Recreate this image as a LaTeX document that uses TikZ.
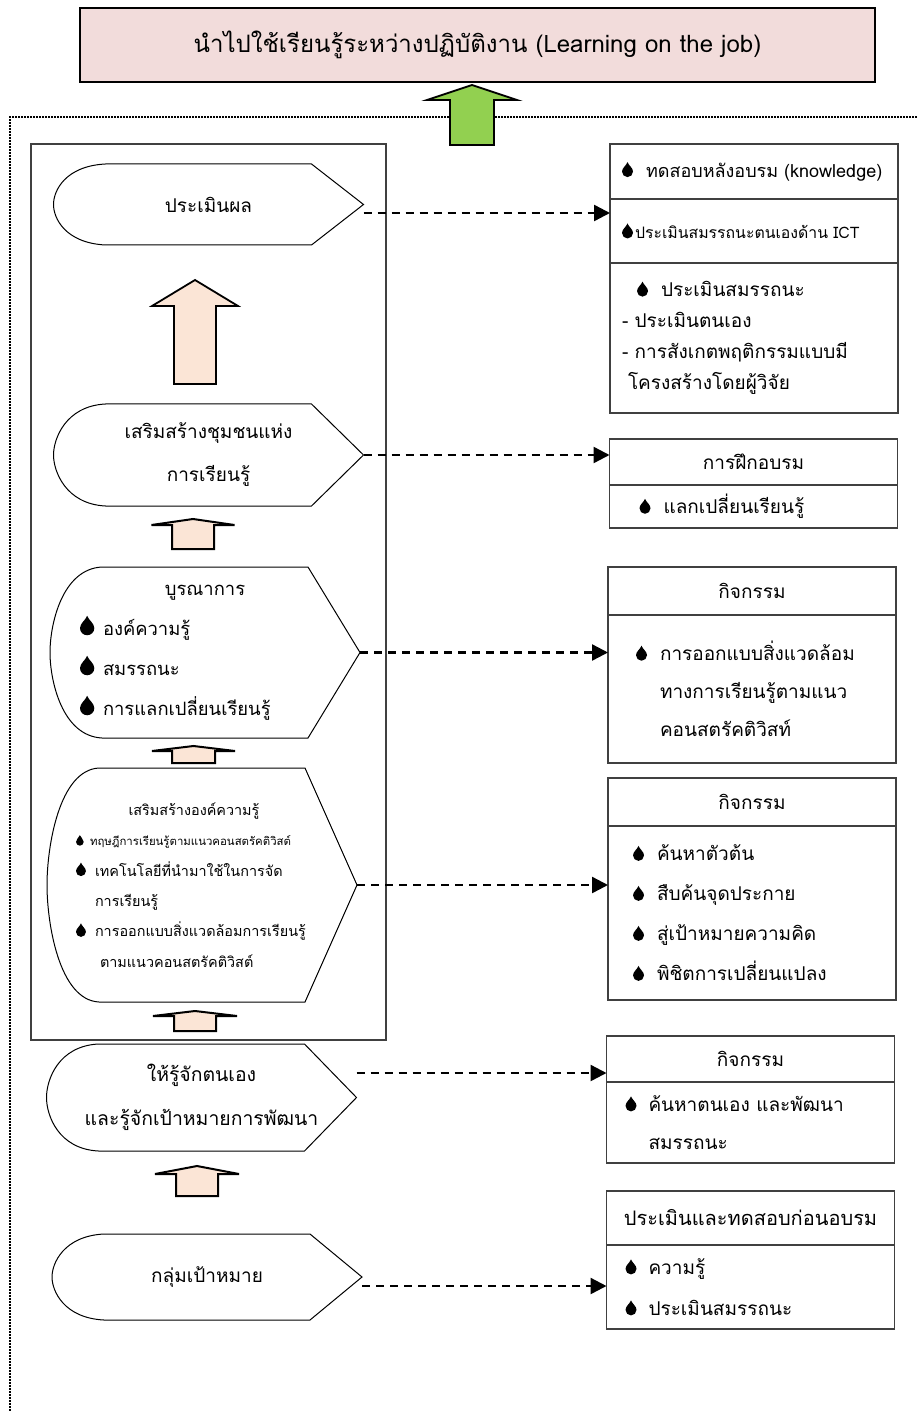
\documentclass[tikz,border=0pt]{standalone}
\usepackage{fontspec}
\setmainfont[Script=Thai]{Loma}
\usetikzlibrary{positioning,arrows.meta}
\definecolor{goalpink}{HTML}{F2DCDB}
\definecolor{leafgreen}{HTML}{92D050}
\definecolor{peach}{HTML}{FBE5D6}
\definecolor{framegray}{HTML}{404040}

\tikzset{
goalbox/.style={rectangle, draw=black, line width=1pt, fill=goalpink, minimum width=397.5pt, minimum height=37pt, font=\fontsize{12}{14}\selectfont},
stage/.style={minimum width=155pt, inner sep=0pt, outer sep=0pt, align=center, font=\fontsize{9.5}{21.5}\selectfont},
stageline/.style={draw=black, line width=0.5pt},
rhead/.style={draw=framegray, line width=0.6pt, minimum width=144pt, inner sep=0pt, outer sep=0pt, font=\fontsize{9.5}{19}\selectfont},
rbody/.style={rhead, text width=132pt, inner xsep=6pt, align=left},
leadsto/.style={line width=1.2pt, dash pattern=on 4pt off 3pt, -{Triangle[length=8pt,width=8pt]}},
fatarrow/.style={draw=black, line width=0.9pt, fill=peach, line join=miter},
smallarr/.style={fatarrow, line width=1pt},
greenarr/.style={fatarrow, fill=leafgreen},
outline/.style={line width=0.9pt, dash pattern=on 0.9pt off 0.6pt}}

% droplet bullet: [scale]{box width}
\newcommand{\drop}[2][1]{\makebox[#2][l]{\tikz[baseline=0pt,x=1pt,y=1pt,scale=#1]
  \fill[black] (2.75,7.5) .. controls (3.35,5.8) and (5.5,4.6) .. (5.5,2.75)
  arc[start angle=0,end angle=-180,radius=2.75] .. controls (0,4.6) and (2.15,5.8) .. (2.75,7.5) -- cycle;}}
% rounded-left, pointed-right outline round a stage node
\newcommand{\stageoutline}[2]{\draw[stageline] ([xshift=26pt]#1.north west) -- ([xshift=-26pt]#1.north east) -- (#1.east) -- ([xshift=-26pt]#1.south east) -- ([xshift=26pt]#1.south west) .. controls +(-20pt,1pt) and +(0,-#2) .. (#1.west) .. controls +(0,#2) and +(-20pt,-1pt) .. ([xshift=26pt]#1.north west) -- cycle;}
% block arrow: [style]{x}{tip}{wing}{base}{half shaft}{half head}
\newcommand{\fatup}[7][fatarrow]{\draw[#1] (#2-#6,#5) -- (#2-#6,#4) -- (#2-#7,#4) -- (#2,#3) -- (#2+#7,#4) -- (#2+#6,#4) -- (#2+#6,#5) -- cycle;}

\begin{document}
\begin{tikzpicture}[x=0.5pt,y=-0.5pt]
\useasboundingbox (0,0) rectangle (917,1411);

\node (goal) [goalbox] at (477.5,45) {นำไปใช้เรียนรู้ระหว่างปฏิบัติงาน (Learning on the job)};
\draw[outline] (917,117) -- (10,117) -- (10,1411);
\fatup[greenarr]{472}{85}{100}{145}{22}{45}

\node (stages) [draw=framegray, line width=0.6pt, minimum width=177.5pt, minimum height=448pt] at (208.5,592) {};

% stages on the left
\node (s1) [stage, minimum height=40.5pt] at (208.5,204.5) {ประเมินผล};
\node (s2) [stage, minimum height=51pt] at (208.5,455) {เสริมสร้างชุมชนแห่ง\\การเรียนรู้};
\node (s3) [stage, minimum height=85.5pt, text width=125pt, inner xsep=15pt, align=left, font=\fontsize{9.2}{20}\selectfont] at (205,652.5)
  {\hfill บูรณาการ\hfill\null\\ \drop[1.3]{11.5pt}องค์ความรู้\\ \drop[1.3]{11.5pt}สมรรถนะ\\ \drop[1.3]{11.5pt}การแลกเปลี่ยนเรียนรู้};
\node (s4) [stage, minimum height=117pt, text width=126pt, inner xsep=14.5pt, align=left, font=\fontsize{7.2}{15.2}\selectfont] at (202,885)
  {\hfill เสริมสร้างองค์ความรู้\hspace{8pt}\hfill\null\\
   \drop[0.7]{7pt}{\fontsize{5.7}{6}\selectfont ทฤษฎีการเรียนรู้ตามแนวคอนสตรัคติวิสต์}\\
   \drop[0.9]{9.5pt}เทคโนโลยีที่นำมาใช้ในการจัด\\ \hspace*{9.5pt}การเรียนรู้\\
   \drop[0.9]{9.5pt}การออกแบบสิ่งแวดล้อมการเรียนรู้\\ \hspace*{12pt}ตามแนวคอนสตรัคติวิสต์};
\node (s5) [stage, minimum height=53.5pt, font=\fontsize{9.7}{22}\selectfont] at (201.5,1097.5) {ให้รู้จักตนเอง\\และรู้จักเป้าหมายการพัฒนา};
\node (s6) [stage, minimum height=43pt] at (207,1277) {กลุ่มเป้าหมาย};
\foreach \s/\c in {s1/7pt, s2/8pt, s3/14pt, s4/19pt, s5/9pt, s6/7pt}
  \stageoutline{\s}{\c};

\fatup{195}{280}{306}{384}{21}{43}
\fatup[smallarr]{193}{519}{525}{549}{21}{41.5}
\fatup[smallarr]{193.5}{746}{751}{763}{21.5}{41.5}
\fatup[smallarr]{195}{1011}{1016}{1031}{21}{42}
\fatup[smallarr]{197}{1166}{1174}{1196}{21}{42}

% boxes on the right
\node (b1a) [rbody, minimum height=27.5pt, font=\fontsize{9}{12}\selectfont] at (754,171.5) {\drop{12pt}\mbox{ทดสอบหลังอบรม (knowledge)}};
\node (b1b) [rbody, below=0pt of b1a, minimum height=32pt, font=\fontsize{7.9}{12}\selectfont] {\drop{6.5pt}ประเมินสมรรถนะตนเองด้าน ICT};
\node (b1c) [rbody, below=0pt of b1b, minimum height=75pt, font=\fontsize{9.5}{15.5}\selectfont]
  {\hspace*{7.5pt}\drop{12pt}ประเมินสมรรถนะ\\- ประเมินตนเอง\\- การสังเกตพฤติกรรมแบบมี\\ \hspace*{3pt}โครงสร้างโดยผู้วิจัย};

\node (b2a) [rhead, minimum height=23pt] at (753.5,462) {การฝึกอบรม};
\node (b2b) [rbody, below=0pt of b2a, minimum height=21.5pt] {\hspace*{9pt}\drop{12pt}แลกเปลี่ยนเรียนรู้};

\node (b3a) [rhead, minimum height=24pt] at (752,591) {กิจกรรม};
\node (b3b) [rbody, below=0pt of b3a, minimum height=74pt]
  {\hspace*{8pt}\drop{12pt}การออกแบบสิ่งแวดล้อม\\ \hspace*{20pt}ทางการเรียนรู้ตามแนว\\ \hspace*{20pt}คอนสตรัคติวิสท์};

\node (b4a) [rhead, minimum height=24pt] at (752,802) {กิจกรรม};
\node (b4b) [rbody, below=0pt of b4a, minimum height=87pt, font=\fontsize{9.5}{20}\selectfont]
  {\hspace*{6.5pt}\drop{12pt}ค้นหาตัวต้น\\ \hspace*{6.5pt}\drop{12pt}สืบค้นจุดประกาย\\ \hspace*{6.5pt}\drop{12pt}สู่เป้าหมายความคิด\\ \hspace*{6.5pt}\drop{12pt}พิชิตการเปลี่ยนแปลง};

\node (b5a) [rhead, minimum height=23pt] at (750.5,1059) {กิจกรรม};
\node (b5b) [rbody, below=0pt of b5a, minimum height=40.5pt]
  {\hspace*{3.5pt}\drop{11.5pt}ค้นหาตนเอง และพัฒนา\\ \hspace*{15pt}สมรรถนะ};

\node (b6a) [rhead, minimum height=27pt, font=\fontsize{10}{19}\selectfont] at (750.5,1218) {ประเมินและทดสอบก่อนอบรม};
\node (b6b) [rbody, below=0pt of b6a, minimum height=42pt, font=\fontsize{9.5}{20.5}\selectfont]
  {\hspace*{3.5pt}\drop{11.5pt}ความรู้\\ \hspace*{3.5pt}\drop{11.5pt}ประเมินสมรรถนะ};

% dashed links
\coordinate (a1) at ([yshift=-4.25pt]s1.east);
\coordinate (a5) at ([yshift=12.25pt]s5.east);
\coordinate (a6) at ([yshift=-4.5pt]s6.east);
\draw[leadsto] (a1) -- (a1 -| b1b.west);
\draw[leadsto] (s2.east) -- (s2.east -| b2a.west);
\draw[leadsto] (s3.east) -- (s3.east -| b3b.west);
\draw[leadsto] (s4.east) -- (s4.east -| b4b.west);
\draw[leadsto] (a5) -- (a5 -| b5a.west);
\draw[leadsto] (a6) -- (a6 -| b6b.west);
\end{tikzpicture}
\end{document}
